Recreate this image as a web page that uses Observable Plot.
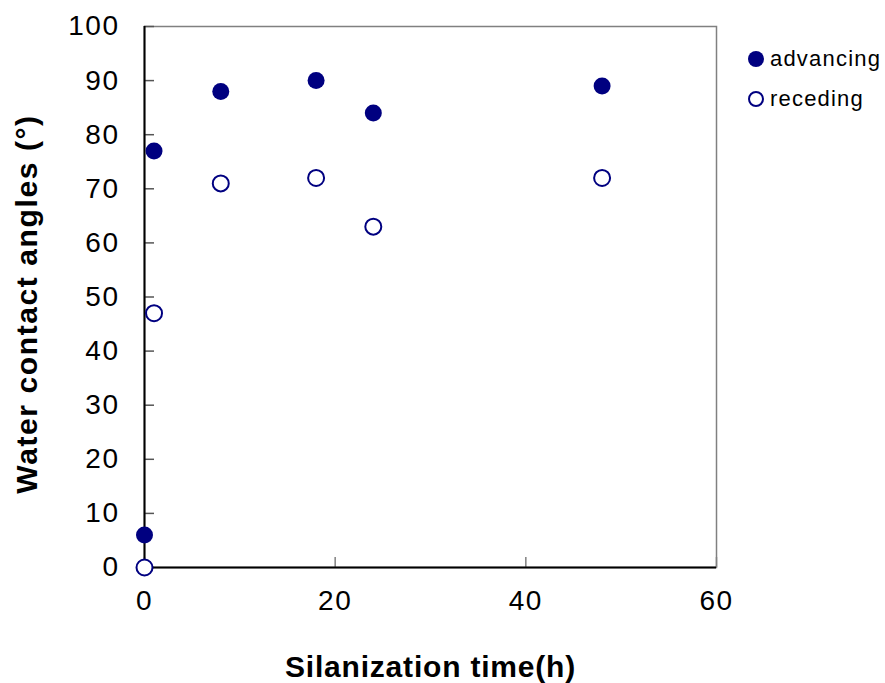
<!DOCTYPE html>
<html>
<head>
<meta charset="utf-8">
<script src="https://cdn.jsdelivr.net/npm/d3@7"></script>
<script src="https://cdn.jsdelivr.net/npm/@observablehq/plot@0.6"></script>
<style>
  body { margin: 0; background: #fff; font-family: Arial, "Liberation Sans", sans-serif; }
  #wrap { position: relative; width: 885px; height: 683px; }
  #legend { position: absolute; left: 740px; top: 40px; }
</style>
</head>
<body>
<div id="wrap"></div>
<script>
const times = [0, 1, 8, 18, 24, 48];
const advancing = [6, 77, 88, 90, 84, 89];
const receding = [0, 47, 71, 72, 63, 72];
const xTicks = [0, 20, 40, 60];
const yTicks = [0, 10, 20, 30, 40, 50, 60, 70, 80, 90, 100];
const seriesNames = ["advancing", "receding"];
const navy = "#000080";

const advData = times.map((t, i) => ({t, v: advancing[i]}));
const recData = times.map((t, i) => ({t, v: receding[i]}));

const chart = Plot.plot({
  width: 885,
  height: 683,
  marginLeft: 144,
  marginRight: 169,
  marginTop: 26,
  marginBottom: 116,
  style: {fontFamily: "Arial, 'Liberation Sans', sans-serif", background: "#fff"},
  x: {domain: [0, 60]},
  y: {domain: [0, 100]},
  marks: [
    Plot.frame({stroke: "#808080", strokeWidth: 1.5}),
    Plot.axisX({ticks: xTicks, tickSize: -10, tickPadding: 44, stroke: "#808080", strokeWidth: 1.5, label: null, tickFormat: d => String(d), fontSize: 28, fill: "#000", lineAnchor: "middle"}),
    Plot.axisY({ticks: yTicks, tickSize: -10, tickPadding: 35, stroke: "#555", strokeWidth: 1.5, label: null, tickFormat: d => String(d), fontSize: 28, fill: "#000"}),
    Plot.ruleX([0], {stroke: "#000", strokeWidth: 2}),
    Plot.ruleY([0], {stroke: "#000", strokeWidth: 2}),
    Plot.dot(recData, {x: "t", y: "v", r: 8, fill: "#fff", stroke: navy, strokeWidth: 2}),
    Plot.dot(advData, {x: "t", y: "v", r: 8.5, fill: navy, stroke: "none"}),
    Plot.text(["Silanization time(h)"], {frameAnchor: "bottom", dy: 100, lineAnchor: "middle", textAnchor: "middle", fontSize: 30, fontWeight: "bold", fill: "#000"}),
    Plot.text(["Water contact angles (°)"], {frameAnchor: "left", rotate: -90, dx: -117, dy: 7, lineAnchor: "middle", textAnchor: "middle", fontSize: 30, fontWeight: "bold", fill: "#000"})
  ]
});
document.getElementById("wrap").appendChild(chart);

// letter spacing to match the reference's wider glyph spacing
const svg = d3.select(chart);
svg.selectAll("g[aria-label='x-axis tick label'] text, g[aria-label='y-axis tick label'] text")
  .attr("letter-spacing", 1.5);
svg.selectAll("g[aria-label='text'] text").each(function() {
  const t = d3.select(this);
  t.attr("letter-spacing", t.text().startsWith("Water") ? 1.6 : 0.8);
});

// legend
const leg = d3.select("#wrap").append("svg").attr("id", "legend")
  .attr("width", 145).attr("height", 80);
seriesNames.forEach((name, i) => {
  const g = leg.append("g").attr("transform", `translate(16,${19 + i * 40})`);
  g.append("circle").attr("r", i === 0 ? 8 : 7)
    .attr("fill", i === 0 ? navy : "#fff")
    .attr("stroke", navy).attr("stroke-width", i === 0 ? 0 : 2);
  g.append("text").attr("x", 14).attr("y", 7)
    .attr("font-size", 22).attr("letter-spacing", 1.2)
    .attr("font-family", "Arial, 'Liberation Sans', sans-serif")
    .text(name);
});
</script>
</body>
</html>
